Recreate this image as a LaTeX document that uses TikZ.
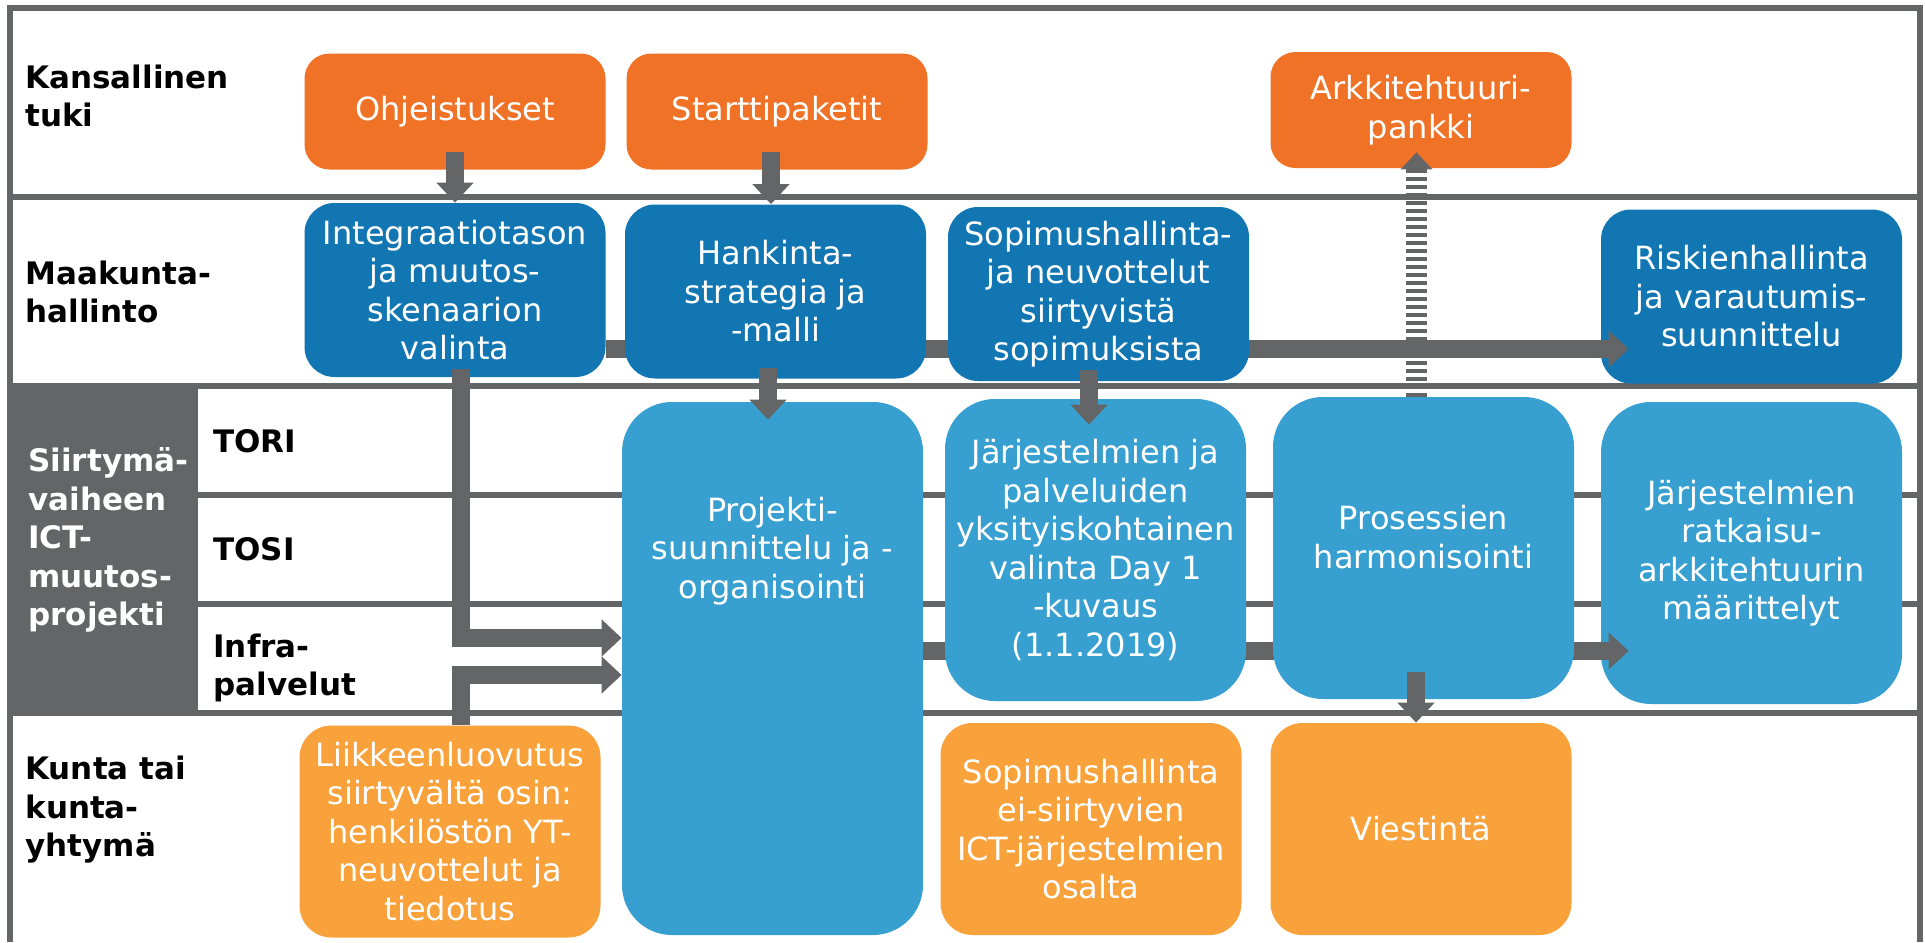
\documentclass[tikz,border=0pt]{standalone}
\usepackage{fontspec}
\setmainfont{DejaVu Sans}
\usetikzlibrary{arrows.meta}
\definecolor{NatOrange}{HTML}{F07226}
\definecolor{MkBlue}{HTML}{1276B2}
\definecolor{PrjBlue}{HTML}{37A0D0}
\definecolor{KuntaOrange}{HTML}{F9A13A}
\definecolor{LineGray}{HTML}{646567}

\begin{document}
\begin{tikzpicture}[x=0.5pt, y=-0.5pt,
    rule/.style={draw=LineGray, line width=3pt},
    rowlabel/.style={anchor=west, align=left, inner sep=0pt, font=\fontsize{15.5pt}{19.25pt}\selectfont\bfseries},
    tasktext/.style={align=center, text=white, inner sep=0pt, font=\fontsize{16pt}{19.25pt}\selectfont},
    task/.style={rectangle, tasktext, minimum width=150.5pt},
    national/.style={task, fill=NatOrange, rounded corners=12.5pt, minimum height=58pt},
    regional/.style={task, fill=MkBlue, rounded corners=15pt, minimum height=87pt},
    project/.style={task, fill=PrjBlue, rounded corners=25pt, minimum height=151pt},
    municipal/.style={task, fill=KuntaOrange, rounded corners=16pt, minimum height=106pt},
    flow/.style={draw=LineGray, line width=9pt, -{Triangle[width=18pt, length=10pt]}},
    feedback/.style={draw=LineGray, line width=10.5pt, dash pattern=on 1.85pt off 2.15pt, -{Triangle[width=15.5pt, length=8.5pt]}}
    ]
    \useasboundingbox (0,0) rectangle (1925,942);

    % frame and rows
    \fill[LineGray] (10,386) rectangle (198,713);
    \draw[rule] (10,942) -- (10,8) -- (1920,8) -- (1920,942);
    \foreach \y in {197, 386, 713}
    \draw[rule] (10,\y) -- (1920,\y);
    \foreach \y in {495, 604}
    \draw[rule] (198,\y) -- (1920,\y);

    % row labels
    \node[rowlabel] (kans) at (25,96) {Kansallinen\\tuki};
    \node[rowlabel] (maak) at (25,292) {Maakunta-\\hallinto};
    \node[rowlabel, text=white] (siir) at (28,540) {Siirtymä-\\vaiheen\\ICT-\\muutos-\\projekti};
    \node[rowlabel] (tori) at (213,441) {TORI};
    \node[rowlabel] (tosi) at (213,549) {TOSI};
    \node[rowlabel] (infra) at (213,668) {Infra-\\palvelut};
    \node[rowlabel] (kunta) at (25,810) {Kunta tai\\kunta-\\yhtymä};

    % boxes under the long bars
    \node[regional] (riski) at (1751.5,296.5) {Riskienhallinta\\ja varautumis-\\suunnittelu};
    \node[project] (ratk) at (1751.5,553) {Järjestelmien\\ratkaisu-\\arkkitehtuurin\\määrittelyt};
    \node[regional] (intg) at (455,290) {Integraatiotason\\ja muutos-\\skenaarion\\valinta};
    \node[project, minimum height=266.5pt,
        label={[tasktext, yshift=58.75pt]center:{Projekti-\\suunnittelu ja -\\organisointi}}] (proj) at (772.5,668.5) {};

    % long bars
    \draw[flow] ([yshift=-29.5pt]intg.east) -- ([xshift=14pt, yshift=-26.25pt]riski.west);
    \draw[flow] ([yshift=8.75pt]proj.east) -- ([xshift=14pt, yshift=-49pt]ratk.west);

    % national support
    \node[national] (ohje) at (455,111.5) {Ohjeistukset};
    \node[national] (start) at (777,111.5) {Starttipaketit};
    \node[national] (arkk) at (1421,110) {Arkkitehtuuri-\\pankki};

    % regional administration
    \node[regional] (hank) at (775.5,291.5) {Hankinta-\\strategia ja\\-malli};
    \node[regional] (sopi) at (1098.5,294) {Sopimushallinta-\\ja neuvottelut\\siirtyvistä\\sopimuksista};

    % transition project
    \node[project] (jarj) at (1095.5,550) {Järjestelmien ja\\palveluiden\\yksityiskohtainen\\valinta Day 1\\-kuvaus\\(1.1.2019)};
    \node[project] (pros) at (1423.5,548) {Prosessien\\harmonisointi\\[-8pt]};

    % municipality
    \node[municipal] (liik) at (450,831.5) {Liikkeenluovutus\\siirtyvältä osin:\\henkilöstön YT-\\neuvottelut ja\\tiedotus};
    \node[municipal] (sopei) at (1091,829) {Sopimushallinta\\ei-siirtyvien\\ICT-järjestelmien\\osalta};
    \node[municipal] (viest) at (1421,829) {Viestintä};

    % short arrows
    \draw[flow] ([yshift=9pt]ohje.south) -- (intg.north);
    \draw[flow] ([xshift=-3pt, yshift=9pt]start.south) -- ([xshift=-2.25pt]hank.north);
    \draw[flow] ([xshift=-3.75pt, yshift=5.5pt]hank.south) -- ([xshift=-2.25pt, yshift=-9pt]proj.north);
    \draw[flow] ([xshift=-4.75pt, yshift=5.5pt]sopi.south) -- ([xshift=-3.25pt, yshift=-13pt]jarj.north);
    \draw[flow] ([xshift=-3.75pt, yshift=13.5pt]pros.south) -- ([xshift=-2.5pt]viest.north);
    \draw[flow] ([xshift=3pt, yshift=4pt]intg.south) |- ([yshift=15.25pt]proj.west);
    \draw[flow] ([xshift=5.5pt]liik.north) |- ([yshift=-3.25pt]proj.west);
    \draw[feedback] ([xshift=-3.5pt]pros.north) -- ([xshift=-2.25pt, yshift=8pt]arkk.south);
\end{tikzpicture}
\end{document}
